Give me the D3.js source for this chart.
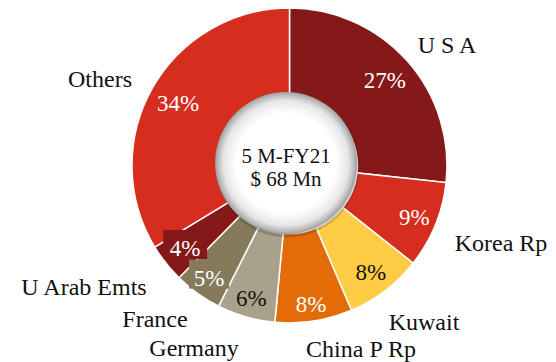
<!DOCTYPE html>
<html>
<head>
<meta charset="utf-8">
<script src="https://cdn.jsdelivr.net/npm/d3@7"></script>
<style>
  html, body { margin: 0; padding: 0; background: #fff; }
  svg { display: block; }
</style>
</head>
<body>
<svg id="chart" width="556" height="362" font-family="Liberation Serif"></svg>
<script>
// Export destinations, 5M-FY21
const categories = ["U S A", "Korea Rp", "Kuwait", "China P Rp", "Germany", "France", "U Arab Emts", "Others"];
const shares = [27, 9, 8, 8, 6, 5, 4, 34];
const colors = ["#85191A", "#D52E1E", "#FFCC44", "#E36C09", "#A9A18B", "#857A5A", "#85191A", "#D52E1E"];
const valueTextColors = ["#fff", "#fff", "#111", "#fff", "#111", "#fff", "#fff", "#fff"];
const centerLines = ["5 M-FY21", "$ 68 Mn"];

const FONT = "Liberation Serif";
const svg = d3.select("#chart");
const cx = 289.5, cy = 165.5;
const rOuter = 157.5, rInner = 68;

const g = svg.append("g").attr("transform", `translate(${cx},${cy})`);

const pie = d3.pie().sort(null).value(d => d)(shares);
const arc = d3.arc().innerRadius(rInner).outerRadius(rOuter);

g.selectAll(null)
  .data(pie)
  .join("path")
  .attr("d", arc)
  .attr("fill", (d, i) => colors[i])
  .attr("stroke", "#fff")
  .attr("stroke-width", 1.5);

// Centre disc with a soft bevelled edge and a faint offset shadow
const defs = svg.append("defs");
const grad = defs.append("radialGradient").attr("id", "disc");
grad.append("stop").attr("offset", "0%").attr("stop-color", "#fff");
grad.append("stop").attr("offset", "70%").attr("stop-color", "#fff");
grad.append("stop").attr("offset", "88%").attr("stop-color", "#e6e6e6");
grad.append("stop").attr("offset", "97%").attr("stop-color", "#b4b4b4");
grad.append("stop").attr("offset", "100%").attr("stop-color", "#9a9a9a");

const disc = svg.append("g").attr("transform", `translate(${cx - 3.5},${cy - 2.5})`);
disc.append("circle")
  .attr("cx", 1.5).attr("cy", 2.5)
  .attr("r", 72)
  .attr("fill", "#000")
  .attr("fill-opacity", 0.18);
disc.append("circle")
  .attr("r", 71)
  .attr("fill", "url(#disc)");

disc.selectAll(null)
  .data(centerLines)
  .join("text")
  .attr("text-anchor", "middle")
  .attr("y", (d, i) => -0.5 + i * 23)
  .attr("font-size", 21)
  .attr("font-family", FONT)
  .attr("fill", "#111")
  .text(d => d);

// Percentage labels inside each slice
const valueRadius = [128, 135, 134, 140, 138, 138, 133, 128];
const boxedLabels = { 5: ["#857A5A", 40], 6: ["#85191A", 44] };

pie.forEach((d, i) => {
  const [x, y] = d3.arc().innerRadius(valueRadius[i]).outerRadius(valueRadius[i]).centroid(d);
  const lbl = g.append("g").attr("transform", `translate(${x},${y})`);
  if (boxedLabels[i]) {
    const [fill, w] = boxedLabels[i];
    lbl.append("rect")
      .attr("x", -w / 2).attr("y", -18)
      .attr("width", w).attr("height", 29)
      .attr("fill", fill);
  }
  lbl.append("text")
    .attr("text-anchor", "middle")
    .attr("dy", "0.35em")
    .attr("font-size", 23)
    .attr("font-family", FONT)
    .attr("fill", valueTextColors[i])
    .text(shares[i] + "%");
});

// Category labels outside the ring
const catPos = [
  [447, 53], [501, 251], [424, 330], [361, 357],
  [194, 356], [155, 327], [84, 295], [100, 87]
];
svg.selectAll(null)
  .data(categories)
  .join("text")
  .attr("x", (d, i) => catPos[i][0])
  .attr("y", (d, i) => catPos[i][1])
  .attr("text-anchor", "middle")
  .attr("font-size", 24)
  .attr("font-family", FONT)
  .attr("fill", "#111")
  .text(d => d);
</script>
</body>
</html>
